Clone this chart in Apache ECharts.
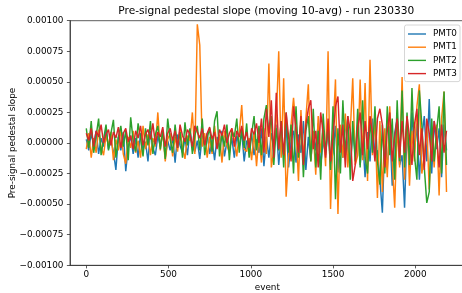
<!DOCTYPE html>
<html><head><meta charset="utf-8">
<script src="https://cdn.jsdelivr.net/npm/echarts@6/dist/echarts.min.js"></script>
<style>html,body{margin:0;padding:0;background:#fff}#c{width:462px;height:293px}</style>
</head><body><div id="c"></div>
<script>
// values of the series are given in units of 1e-5
const UNIT = 1e-5;
const events = [
0,15,30,45,60,75,90,105,120,135,
150,165,180,195,210,225,240,255,270,285,
300,315,330,345,360,375,390,405,420,435,
450,465,480,495,510,525,540,555,570,585,
600,615,630,645,660,675,690,705,720,735,
750,765,780,795,810,825,840,855,870,885,
900,915,930,945,960,975,990,1005,1020,1035,
1050,1065,1080,1095,1110,1125,1140,1155,1170,1185,
1200,1215,1230,1245,1260,1275,1290,1305,1320,1335,
1350,1365,1380,1395,1410,1425,1440,1455,1470,1485,
1500,1515,1530,1545,1560,1575,1590,1605,1620,1635,
1650,1665,1680,1695,1710,1725,1740,1755,1770,1785,
1800,1815,1830,1845,1860,1875,1890,1905,1920,1935,
1950,1965,1980,1995,2010,2025,2040,2055,2070,2085,
2100,2115,2130,2145,2160,2175,2190];
const pmt0 = [
3,-6,8,-2,10,-9,4,-3,12,-5,
2,-7,-22,5,-6,9,-23,-3,6,-9,
4,-12,8,-5,1,-15,10,-4,-10,6,
-3,9,-12,2,-6,5,-16,7,-2,-8,
4,-10,11,-3,-7,2,-13,6,-1,8,
-9,3,-14,5,-4,10,-11,1,-6,4,
-12,6,-3,9,-15,2,-5,8,-10,3,
-8,12,-19,5,-12,8,-4,15,-18,6,
-9,14,-20,3,10,-16,7,-8,18,-22,
5,-14,9,-6,16,-19,2,-10,12,-17,
-8,14,-24,6,-12,19,-5,-20,10,-9,
15,-18,4,-28,9,-15,20,-12,-6,-30,
-57,5,-22,14,-35,8,20,-18,-10,-53,
12,-20,25,-8,16,-30,5,22,-15,36,
-25,18,-5,12,-28,15,-6];
const pmt1 = [
-5,8,-12,4,-8,11,-3,-10,6,-2,
9,-14,3,-6,12,-9,-17,5,-4,10,
-8,2,-12,14,-5,7,-10,4,-3,25,
-6,10,-15,3,8,-11,5,-7,12,-4,
-13,6,2,25,-9,97,80,-3,8,-12,
5,-9,14,-4,7,-16,10,-2,-8,12,
3,-11,8,31,-5,-7,4,-14,9,-19,
6,-16,12,-9,65,-20,-6,18,75,-12,
53,-44,-10,15,37,12,-31,27,-14,20,
48,-15,10,-26,22,-8,12,-19,75,-54,
8,52,-58,15,-12,24,-20,10,53,-18,
-10,52,-14,49,-31,68,-10,20,-45,18,
-40,12,-28,30,-15,-53,14,-20,54,-30,
22,-35,10,-15,30,48,-25,-10,15,-38,
10,-20,15,-43,20,42,-40];
const pmt2 = [
12,-4,18,-8,6,20,-10,3,15,-6,
8,19,-12,5,14,-3,10,-14,21,2,
-7,16,4,-11,12,-2,18,-9,7,14,
-5,11,-13,20,3,-8,15,-4,9,-12,
17,-2,12,-9,6,14,-6,20,-10,4,
12,-7,18,26,-11,8,-3,15,-14,10,
5,20,-8,12,-4,16,-12,7,22,-6,
14,-10,20,31,8,22,-18,12,-6,18,
-20,25,-8,15,-25,30,-12,18,-28,10,
22,-15,28,-20,10,-30,24,-8,15,-22,
30,-46,12,-25,35,-10,22,-30,18,-15,
28,-20,35,-12,-25,20,-8,30,-15,-34,
15,-25,30,-10,20,-30,35,-15,43,-20,
25,-18,45,-10,-30,43,15,-20,-49,-40,
20,-15,10,30,-25,42,-18];
const pmt3 = [
8,2,12,-3,10,5,15,0,7,11,
-2,9,4,13,-4,8,12,1,6,-5,
10,4,14,-2,7,11,3,16,-1,9,
5,13,-3,8,12,2,10,-4,15,6,
1,11,7,-3,14,9,4,12,-2,8,
13,3,9,-5,11,6,15,0,8,12,
-3,10,5,14,2,9,-4,12,7,16,
0,20,-8,28,5,35,-12,41,-5,18,
-10,25,5,-15,30,12,-8,22,-18,15,
28,35,-5,10,-20,25,8,-12,20,-15,
5,30,38,-8,15,-20,22,10,-31,-18,
12,25,-10,18,-5,22,8,-15,20,28,
15,-20,10,25,-15,5,20,-12,18,-8,
22,5,-18,15,28,-10,12,-22,20,8,
-15,18,5,-20,15,-8,10];
const seriesNames = ['PMT0','PMT1','PMT2','PMT3'];
const seriesValues = [pmt0, pmt1, pmt2, pmt3];
const colors = ['#1f77b4','#ff7f0e','#2ca02c','#d62728'];
const xTicks = [0, 500, 1000, 1500, 2000];
const titleText = 'Pre-signal pedestal slope (moving 10-avg) - run 230330';
const xName = 'event';
const yName = 'Pre-signal pedestal slope';

const FONT = 'DejaVu Sans';
const chart = echarts.init(document.getElementById('c'), null, {renderer: 'canvas'});
const fmtY = v => (v < -1e-12 ? '\u2212' : '') + Math.abs(v).toFixed(5);
chart.setOption({
  animation: false,
  backgroundColor: '#fff',
  grid: {left: 70, top: 20.7, right: -2.6, bottom: 27.7, show: true, borderColor: '#333', borderWidth: 0.8, containLabel: false, outerBoundsMode: 'none'},
  graphic: [{type: 'text', x: 266.3, y: 11, style: {text: titleText, fontFamily: FONT, fontSize: 10.6, fill: '#000', align: 'center', verticalAlign: 'middle'}}],
  legend: {
    orient: 'vertical', right: 2, top: 25,
    data: seriesNames,
    icon: 'rect', itemWidth: 18, itemHeight: 1.4, itemGap: 3.2,
    padding: [4, 3, 3, 3.5],
    borderColor: '#cccccc', borderWidth: 0.8, borderRadius: 2,
    backgroundColor: 'rgba(255,255,255,0.8)',
    textStyle: {fontFamily: FONT, fontSize: 8.85, color: '#000', lineHeight: 10, padding: [0, 0, 0, 2]},
    selectedMode: false
  },
  xAxis: {
    type: 'value', min: -99, max: 2300,
    name: xName, nameLocation: 'middle', nameGap: 18, nameMoveOverlap: false,
    nameTextStyle: {fontFamily: FONT, fontSize: 8.85, color: '#000'},
    axisLine: {onZero: false, lineStyle: {color: '#333', width: 0.8}},
    axisTick: {show: true, length: 3.1, customValues: xTicks, lineStyle: {color: '#333', width: 0.8}},
    axisLabel: {customValues: xTicks, formatter: v => String(v), fontFamily: FONT, fontSize: 8.85, color: '#000', margin: 5},
    splitLine: {show: false}
  },
  yAxis: {
    type: 'value', min: -0.001, max: 0.001, interval: 0.00025,
    name: yName, nameLocation: 'middle', nameGap: 53, nameMoveOverlap: false,
    nameTextStyle: {fontFamily: FONT, fontSize: 8.85, color: '#000'},
    axisLine: {show: true, onZero: false, lineStyle: {color: '#333', width: 0.8}},
    axisTick: {show: true, length: 3.1, lineStyle: {color: '#333', width: 0.8}},
    axisLabel: {formatter: fmtY, fontFamily: FONT, fontSize: 8.85, color: '#000', margin: 6.5},
    splitLine: {show: false}
  },
  series: seriesNames.map((name, k) => ({
    name, type: 'line', showSymbol: false, symbol: 'none',
    color: colors[k],
    lineStyle: {color: colors[k], width: 1.45},
    data: events.map((e, i) => [e, seriesValues[k][i] * UNIT])
  }))
});
</script></body></html>
